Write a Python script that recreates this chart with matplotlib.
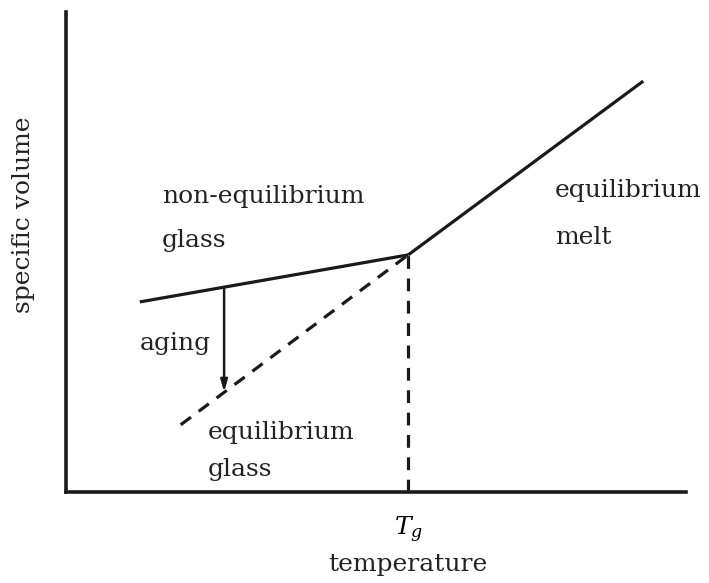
import matplotlib
matplotlib.use("Agg")
import matplotlib.pyplot as plt

plt.rcParams["font.family"] = "DejaVu Serif"
plt.rcParams["mathtext.fontset"] = "dejavuserif"

# schematic values (arbitrary units)
tg = 5.52
v_tg = 4.94
glass_T = [1.19, tg]
glass_V = [3.96, v_tg]
melt_T = [tg, 9.31]
melt_V = [v_tg, 8.56]
eq_glass_T = [1.85, tg]
eq_glass_V = [1.40, v_tg]
aging_T = 2.55
aging_V = [4.27, 2.08]

fig = plt.figure(figsize=(7.09, 5.83), dpi=100)
ax = fig.add_axes([66/709, 91/583, 620/709, 480/583])
ax.set_xlim(0, 10)
ax.set_ylim(0, 10)

lw = 2.3
ax.plot(glass_T, glass_V, color="#1a1a1a", lw=lw, solid_capstyle="butt")
ax.plot(melt_T, melt_V, color="#1a1a1a", lw=lw, solid_capstyle="butt")
ax.plot(eq_glass_T, eq_glass_V, color="#1a1a1a", lw=lw, dashes=(4, 3))
ax.plot([tg, tg], [0, v_tg], color="#1a1a1a", lw=lw, dashes=(4, 3))
ax.annotate("", xy=(aging_T, aging_V[1]), xytext=(aging_T, aging_V[0]),
            arrowprops=dict(arrowstyle="-|>,head_length=0.7,head_width=0.2",
                            color="#1a1a1a", lw=1.8, shrinkA=0, shrinkB=0))

fs = 18
ax.text(1.55, 6.15, "non-equilibrium", fontsize=fs, va="center", color="#222")
ax.text(1.55, 5.25, "glass", fontsize=fs, va="center", color="#222")
ax.text(7.89, 6.29, "equilibrium", fontsize=fs, va="center", color="#222")
ax.text(7.89, 5.31, "melt", fontsize=fs, va="center", color="#222")
ax.text(1.19, 3.10, "aging", fontsize=fs, va="center", color="#222")
ax.text(2.29, 1.25, "equilibrium", fontsize=fs, va="center", color="#222")
ax.text(2.29, 0.46, "glass", fontsize=fs, va="center", color="#222")

for s in ["top", "right"]:
    ax.spines[s].set_visible(False)
for s in ["left", "bottom"]:
    ax.spines[s].set_linewidth(2.6)
    ax.spines[s].set_color("#1a1a1a")

ax.set_xticks([tg])
ax.set_xticklabels(["$T_g$"], fontsize=fs)
ax.set_yticks([])
ax.tick_params(axis="x", length=0, pad=16)
ax.set_xlabel("temperature", fontsize=fs, labelpad=6, color="#222")
ax.xaxis.label.set_x(tg / 10)
ax.set_ylabel("specific volume", fontsize=fs, labelpad=22, color="#222")
ax.yaxis.label.set_y(0.577)

fig.savefig("out.png", dpi=100)
